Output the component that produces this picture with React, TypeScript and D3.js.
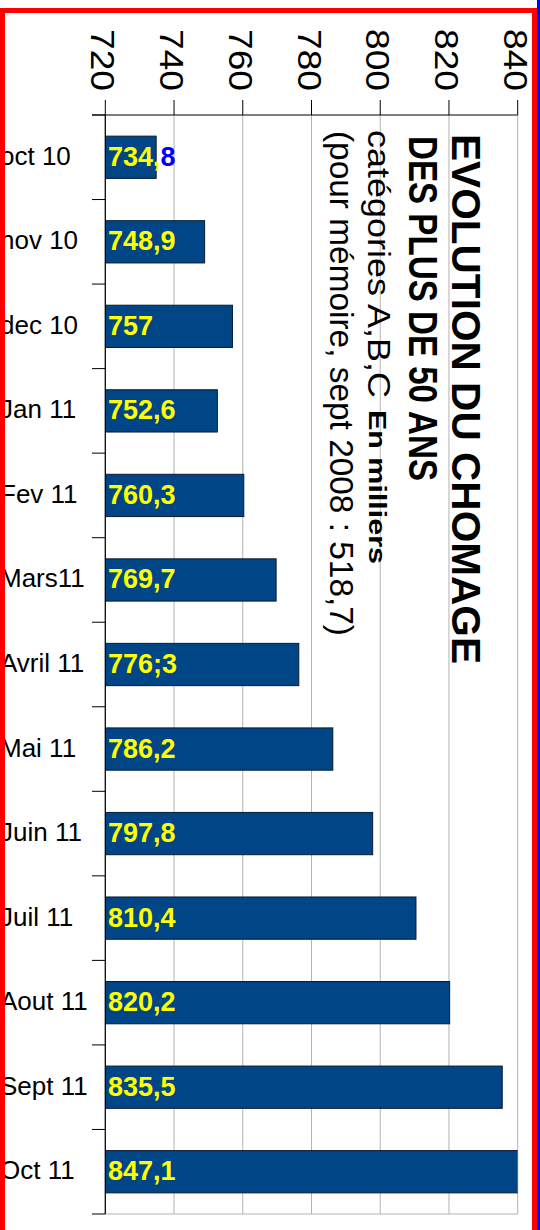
import React from "react";
import * as d3 from "d3";

const categories = ["oct 10", "nov 10", "dec 10", "Jan 11", "Fev 11", "Mars11", "Avril 11", "Mai 11", "Juin 11", "Juil 11", "Aout 11", "Sept 11", "Oct 11"];
const values = [734.8, 748.9, 757, 752.6, 760.3, 769.7, 776.3, 786.2, 797.8, 810.4, 820.2, 835.5, 847.1];
const valueLabels = ["734,8", "748,9", "757", "752,6", "760,3", "769,7", "776;3", "786,2", "797,8", "810,4", "820,2", "835,5", "847,1"];
const tickValues = [720, 740, 760, 780, 800, 820, 840];
const titleLine1 = "EVOLUTION DU CHOMAGE";
const titleLine2 = "DES PLUS DE 50 ANS";
const titleLine3a = "catégories A,B,C";
const titleLine3b = "En milliers";
const titleLine4 = "(pour mémoire, sept 2008 : 518,7)";

const W = 540;
const H = 1230;
const FONT = "'Liberation Sans', Arial, sans-serif";

export default function App() {
  const x = d3.scaleLinear().domain([720, 840]).range([105.3, 517.7]);
  const y = d3.scaleBand<string>().domain(categories).range([115, 1214]).paddingInner(0.5).paddingOuter(0.25);
  const step = y.step();
  const top = 115;
  const bottom = 1214;
  const boundaries = d3.range(categories.length + 1).map((i) => top + i * step);

  return (
    <svg width={W} height={H} style={{ position: "absolute", left: 0, top: 0, background: "#fff" }} fontFamily={FONT}>
      <defs>
        <clipPath id="plot">
          <rect x={x(720)} y={top} width={x(840) - x(720)} height={bottom - top} />
        </clipPath>
      </defs>
      <rect x={0} y={0} width={W} height={H} fill="#fff" />
      {/* gridlines */}
      {tickValues.map((t) => (
        <line key={"g" + t} x1={x(t)} x2={x(t)} y1={top} y2={bottom} stroke="#b3b3b3" strokeWidth={1} />
      ))}
      <line x1={x(720)} x2={x(840)} y1={bottom} y2={bottom} stroke="#b3b3b3" strokeWidth={1} />
      {/* bars */}
      <g clipPath="url(#plot)">
        {values.map((v, i) => (
          <rect key={"b" + i} x={x(720)} y={y(categories[i])!} width={x(v) - x(720)} height={y.bandwidth()} fill="#004586" stroke="#0a1a33" strokeWidth={1} />
        ))}
      </g>
      {/* value labels */}
      {values.map((v, i) => {
        const lbl = valueLabels[i];
        const cy = y(categories[i])! + y.bandwidth() / 2 + 8.5;
        if (i === 0) {
          return (
            <text key={"v" + i} x={108} y={cy} fontSize={27} fontWeight="bold" fill="#ffff00">
              {lbl.slice(0, 4)}
              <tspan fill="#0000ff">{lbl.slice(4)}</tspan>
            </text>
          );
        }
        return (
          <text key={"v" + i} x={108} y={cy} fontSize={27} fontWeight="bold" fill="#ffff00">
            {lbl}
          </text>
        );
      })}
      {/* top axis */}
      <line x1={92} x2={x(840)} y1={top} y2={top} stroke="#000" strokeWidth={1} />
      {tickValues.map((t) => (
        <line key={"t" + t} x1={x(t)} x2={x(t)} y1={100} y2={top} stroke="#000" strokeWidth={1} />
      ))}
      {tickValues.map((t) => (
        <text key={"tl" + t} transform={`translate(${x(t) - 14},29) rotate(90)`} fontSize={33} textLength={62} lengthAdjust="spacingAndGlyphs" fill="#000">
          {t}
        </text>
      ))}
      {/* category axis */}
      <line x1={x(720)} x2={x(720)} y1={top} y2={bottom} stroke="#000" strokeWidth={1.2} />
      {boundaries.map((b, i) => (
        <line key={"c" + i} x1={92} x2={x(720)} y1={b} y2={b} stroke="#000" strokeWidth={1} />
      ))}
      {categories.map((c) => (
        <text key={"cl" + c} x={0} y={y(c)! + y.bandwidth() / 2 + 7.5} fontSize={26} fill="#000">
          {c}
        </text>
      ))}
      {/* title */}
      <text transform="translate(452,134) rotate(90)" fontSize={40} fontWeight="bold" fill="#000" textLength={530} lengthAdjust="spacingAndGlyphs">{titleLine1}</text>
      <text transform="translate(409,136) rotate(90)" fontSize={40} fontWeight="bold" fill="#000" textLength={345} lengthAdjust="spacingAndGlyphs">{titleLine2}</text>
      <text transform="translate(368,130) rotate(90)" fontSize={32} fill="#000" textLength={268} lengthAdjust="spacingAndGlyphs">{titleLine3a}</text>
      <text transform="translate(369,410) rotate(90)" fontSize={24} fontWeight="bold" fill="#000" textLength={154} lengthAdjust="spacingAndGlyphs">{titleLine3b}</text>
      <text transform="translate(330,131) rotate(90)" fontSize={33} fill="#000" textLength={505} lengthAdjust="spacingAndGlyphs">{titleLine4}</text>
      {/* frame */}
      <rect x={2.5} y={10.5} width={532} height={H + 20} fill="none" stroke="#ff0000" strokeWidth={5} />
      <rect x={537} y={0} width={3} height={H} fill="#0000ff" />
    </svg>
  );
}
